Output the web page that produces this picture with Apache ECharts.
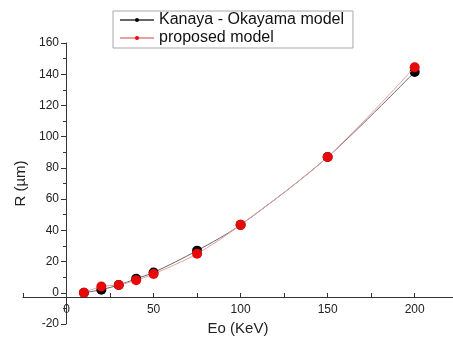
<!DOCTYPE html>
<html>
<head>
<meta charset="utf-8">
<script src="https://cdn.jsdelivr.net/npm/echarts@6/dist/echarts.min.js"></script>
<style>
  html, body { margin: 0; padding: 0; background: #fff; }
  #chart { width: 453px; height: 340px; }
</style>
</head>
<body>
<div id="chart"></div>
<script>
// energies (KeV) and ranges (µm)
const energy = [10, 20, 30, 40, 50, 75, 100, 150, 200]
const kanaya = [0, 2, 5, 9, 13, 27, 43.5, 87, 141.5]
const proposed = [0, 4, 5, 8, 12, 25, 43.5, 87, 144.5]
const yTicks = { min: -20, max: 160, step: 20 }

const font = 'Liberation Sans, Arial, sans-serif'
const chart = echarts.init(document.getElementById('chart'))

function pairs(ys) {
  return energy.map((x, i) => [x, ys[i]])
}

// grid spans x -25..222 and y -20..160; the axes are shifted onto the zero lines
const option = {
  animation: false,
  textStyle: { fontFamily: font },
  legend: {
    left: 113,
    top: 11,
    orient: 'vertical',
    itemGap: 2,
    itemWidth: 34,
    itemHeight: 5,
    padding: [1, 9, 2, 6],
    borderColor: '#a8a8a8',
    borderWidth: 1,
    textStyle: { fontSize: 16, color: '#111', fontFamily: font },
    data: ['Kanaya - Okayama model', 'proposed model']
  },
  grid: { left: 23, right: 0, top: 43, bottom: 16, outerBoundsMode: 'none', containLabel: false },
  xAxis: {
    type: 'value',
    min: -25,
    max: 222,
    interval: 25,
    offset: -27,
    name: 'Eo (KeV)',
    nameLocation: 'middle',
    nameGap: 24,
    nameTextStyle: { fontSize: 15, color: '#222', fontFamily: font },
    axisLine: { onZero: false, lineStyle: { color: '#333', width: 1 } },
    axisTick: { show: true, inside: true, length: 4, lineStyle: { color: '#333' } },
    axisLabel: {
      fontSize: 12,
      color: '#222',
      margin: 7,
      showMaxLabel: false,
      formatter: v => (v >= 0 && v % 50 === 0) ? String(v) : ''
    },
    splitLine: { show: false }
  },
  yAxis: {
    type: 'value',
    min: yTicks.min,
    max: yTicks.max,
    interval: yTicks.step,
    offset: -43,
    name: 'R (µm)',
    nameLocation: 'middle',
    nameRotate: 90,
    nameGap: 38,
    nameTextStyle: { fontSize: 15, color: '#222', fontFamily: font },
    axisLine: { show: true, onZero: false, lineStyle: { color: '#333', width: 1 } },
    axisTick: { show: true, length: 5, lineStyle: { color: '#333' } },
    minorTick: { show: true, splitNumber: 2, length: 3, lineStyle: { color: '#333' } },
    axisLabel: { fontSize: 12, color: '#222', margin: 7 },
    splitLine: { show: false }
  },
  series: [
    {
      name: 'Kanaya - Okayama model',
      type: 'line',
      smooth: 0.3,
      symbol: 'circle',
      symbolSize: 10,
      itemStyle: { color: '#000' },
      lineStyle: { color: '#666', width: 1 },
      data: pairs(kanaya),
      z: 2
    },
    {
      name: 'proposed model',
      type: 'line',
      smooth: 0.3,
      symbol: 'circle',
      symbolSize: 10,
      itemStyle: { color: '#e8080a' },
      lineStyle: { color: '#e8a0a0', width: 1 },
      data: pairs(proposed),
      z: 3
    }
  ]
}

chart.setOption(option, true)
</script>
</body>
</html>
